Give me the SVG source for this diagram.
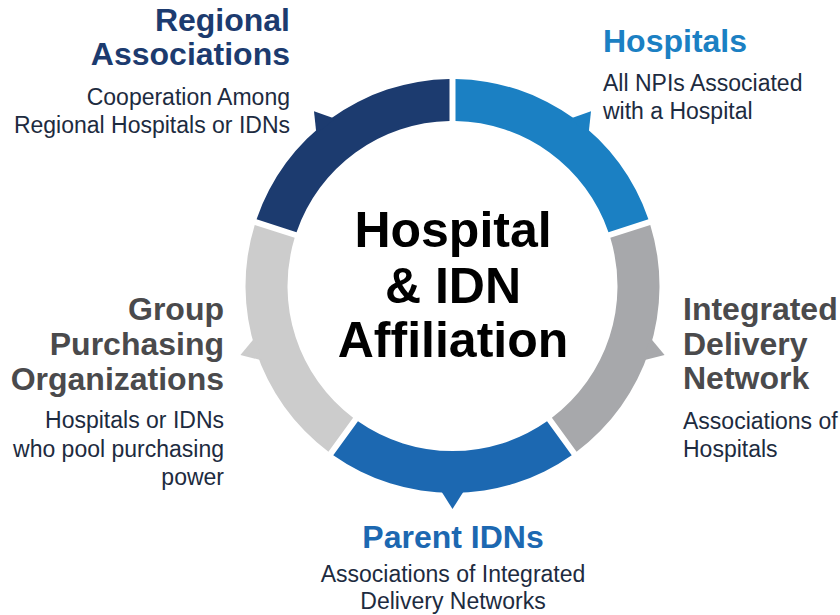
<svg xmlns="http://www.w3.org/2000/svg" width="840" height="615" viewBox="0 0 840 615">
<style>
.t{font-family:"Liberation Sans",Arial,sans-serif;font-weight:bold;font-size:32px}
.s{font-family:"Liberation Sans",Arial,sans-serif;font-size:23px;fill:#1d2b40}
.c{font-family:"Liberation Sans",Arial,sans-serif;font-weight:bold;font-size:50px;fill:#000;text-anchor:middle}
.e{text-anchor:end}.m{text-anchor:middle}
</style>
<defs>
<path id="seg" d="M 648.42 219.19 A 207 207 0 0 0 455.5 79.02 L 455.5 121.03 A 165 165 0 0 1 608.47 232.17 Z"/>
<polygon id="ptr" points="440.5,82 464.5,82 452.5,63"/>
</defs>
<rect width="840" height="615" fill="#fff"/>
<g id="hospitals">
<use href="#seg" fill="#1b80c3"/>
<use href="#ptr" fill="#1b80c3" transform="rotate(38.4 452.5 286)"/>
<text class="t" x="603" y="51.5" fill="#1b80c3">Hospitals</text>
<text class="s" x="603" y="90.5">All NPIs Associated</text>
<text class="s" x="603" y="119">with a Hospital</text>
</g>
<g id="regional">
<use href="#seg" fill="#1c3b6f" transform="rotate(-72 452.5 286)"/>
<use href="#ptr" fill="#1c3b6f" transform="rotate(-38.4 452.5 286)"/>
<text class="t e" x="290" y="31" fill="#1c3b6f">Regional</text>
<text class="t e" x="290" y="65" fill="#1c3b6f">Associations</text>
<text class="s e" x="290" y="104.5">Cooperation Among</text>
<text class="s e" x="290" y="132.5">Regional Hospitals or IDNs</text>
</g>
<g id="gpo">
<use href="#seg" fill="#cccccc" transform="rotate(-144 452.5 286)"/>
<use href="#ptr" fill="#cccccc" transform="rotate(-108 452.5 286)"/>
<text class="t e" x="224" y="319.5" fill="#4a4a4c">Group</text>
<text class="t e" x="224" y="355" fill="#4a4a4c">Purchasing</text>
<text class="t e" x="224" y="390" fill="#4a4a4c">Organizations</text>
<text class="s e" x="224" y="428">Hospitals or IDNs</text>
<text class="s e" x="224" y="456.5">who pool purchasing</text>
<text class="s e" x="224" y="485">power</text>
</g>
<g id="parent">
<use href="#seg" fill="#1c68b1" transform="rotate(144 452.5 286)"/>
<use href="#ptr" fill="#1c68b1" transform="rotate(180 452.5 286)"/>
<text class="t m" x="453" y="547.5" fill="#1c68b1">Parent IDNs</text>
<text class="s m" x="453" y="581.5">Associations of Integrated</text>
<text class="s m" x="453" y="609">Delivery Networks</text>
</g>
<g id="idn">
<use href="#seg" fill="#a7a8ab" transform="rotate(72 452.5 286)"/>
<use href="#ptr" fill="#a7a8ab" transform="rotate(108 452.5 286)"/>
<text class="t" x="683" y="320" fill="#4a4a4c">Integrated</text>
<text class="t" x="683" y="354.5" fill="#4a4a4c">Delivery</text>
<text class="t" x="683" y="388.5" fill="#4a4a4c">Network</text>
<text class="s" x="683" y="429">Associations of</text>
<text class="s" x="683" y="457">Hospitals</text>
</g>
<g id="center">
<text class="c" x="453" y="246.5">Hospital</text>
<text class="c" x="453" y="303">&amp; IDN</text>
<text class="c" x="453" y="356.5">Affiliation</text>
</g>
<g id="connectors"/>
</svg>
